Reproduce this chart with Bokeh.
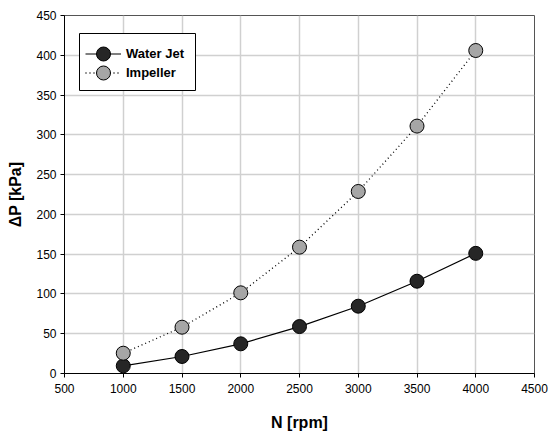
from bokeh.plotting import figure
from bokeh.models import Range1d, Legend, LegendItem, FixedTicker, BoxAnnotation
from bokeh.embed import file_html
from bokeh.resources import INLINE

rpm = [1000, 1500, 2000, 2500, 3000, 3500, 4000]
water_jet = [9.6, 21.4, 37.3, 59, 84.6, 116, 151]
impeller = [25.5, 58.2, 101.4, 158.8, 228.8, 311, 406]
x_ticks = [500, 1000, 1500, 2000, 2500, 3000, 3500, 4000, 4500]
y_ticks = [0, 50, 100, 150, 200, 250, 300, 350, 400, 450]

FONT = "Liberation Sans"

p = figure(width=548, height=434, output_backend="svg", toolbar_location=None,
           x_range=Range1d(500, 4500), y_range=Range1d(0, 450),
           min_border_left=64, min_border_right=14, min_border_top=15, min_border_bottom=61)
p.background_fill_color = "white"
p.border_fill_color = "white"
p.outline_line_color = "#555555"
p.outline_line_width = 1

for ax in (p.xaxis[0], p.yaxis[0]):
    ax.axis_line_color = "black"
    ax.axis_line_width = 1
    ax.major_tick_line_color = "black"
    ax.major_tick_out = 4
    ax.major_tick_in = 0
    ax.minor_tick_line_color = None
    ax.major_label_text_font = FONT
    ax.major_label_text_font_size = "12px"
    ax.major_label_text_color = "black"
    ax.axis_label_text_font = FONT
    ax.axis_label_text_font_style = "bold"
    ax.axis_label_text_font_size = "16px"
    ax.axis_label_text_color = "black"

p.xaxis[0].ticker = FixedTicker(ticks=x_ticks)
p.yaxis[0].ticker = FixedTicker(ticks=y_ticks)
p.xaxis.axis_label = "N [rpm]"
p.yaxis.axis_label = "ΔP [kPa]"
p.xaxis.major_label_standoff = 6
p.xaxis.axis_label_standoff = 18
p.yaxis.major_label_standoff = 4
p.yaxis.axis_label_standoff = 9

p.xgrid.ticker = FixedTicker(ticks=x_ticks)
p.ygrid.ticker = FixedTicker(ticks=y_ticks)
p.grid.grid_line_color = "#d0d0d0"
p.grid.grid_line_width = 1.5

l1 = p.line(rpm, water_jet, line_color="black", line_width=1.2)
s1 = p.scatter(rpm, water_jet, size=14, fill_color="#262626", line_color="black", line_width=1)
l2 = p.line(rpm, impeller, line_color="black", line_width=1.3, line_dash="1 3")
s2 = p.scatter(rpm, impeller, size=14, fill_color="#a6a6a6", line_color="black", line_width=1)

# legend frame (screen units, relative to the plot frame, y measured upward)
box = BoxAnnotation(left=15, right=131, top=340, bottom=283,
                    left_units="screen", right_units="screen",
                    top_units="screen", bottom_units="screen",
                    fill_color="white", fill_alpha=1,
                    line_color="black", line_width=1, line_alpha=1)
p.add_layout(box)

def make_legend(label, rends, loc):
    lg = Legend(items=[LegendItem(label=label, renderers=rends)], location=loc)
    lg.label_text_font = FONT
    lg.label_text_font_style = "bold"
    lg.label_text_font_size = "13px"
    lg.label_text_color = "black"
    lg.border_line_color = None
    lg.background_fill_alpha = 0
    lg.glyph_width = 36
    lg.glyph_height = 35
    lg.label_standoff = 5
    lg.padding = 0
    lg.margin = 0
    return lg

p.add_layout(make_legend("Water Jet", [l1, s1], (21, 302)), "center")
p.add_layout(make_legend("Impeller", [l2, s2], (21, 283)), "center")

open("out.html", "w").write(file_html(p, INLINE))
